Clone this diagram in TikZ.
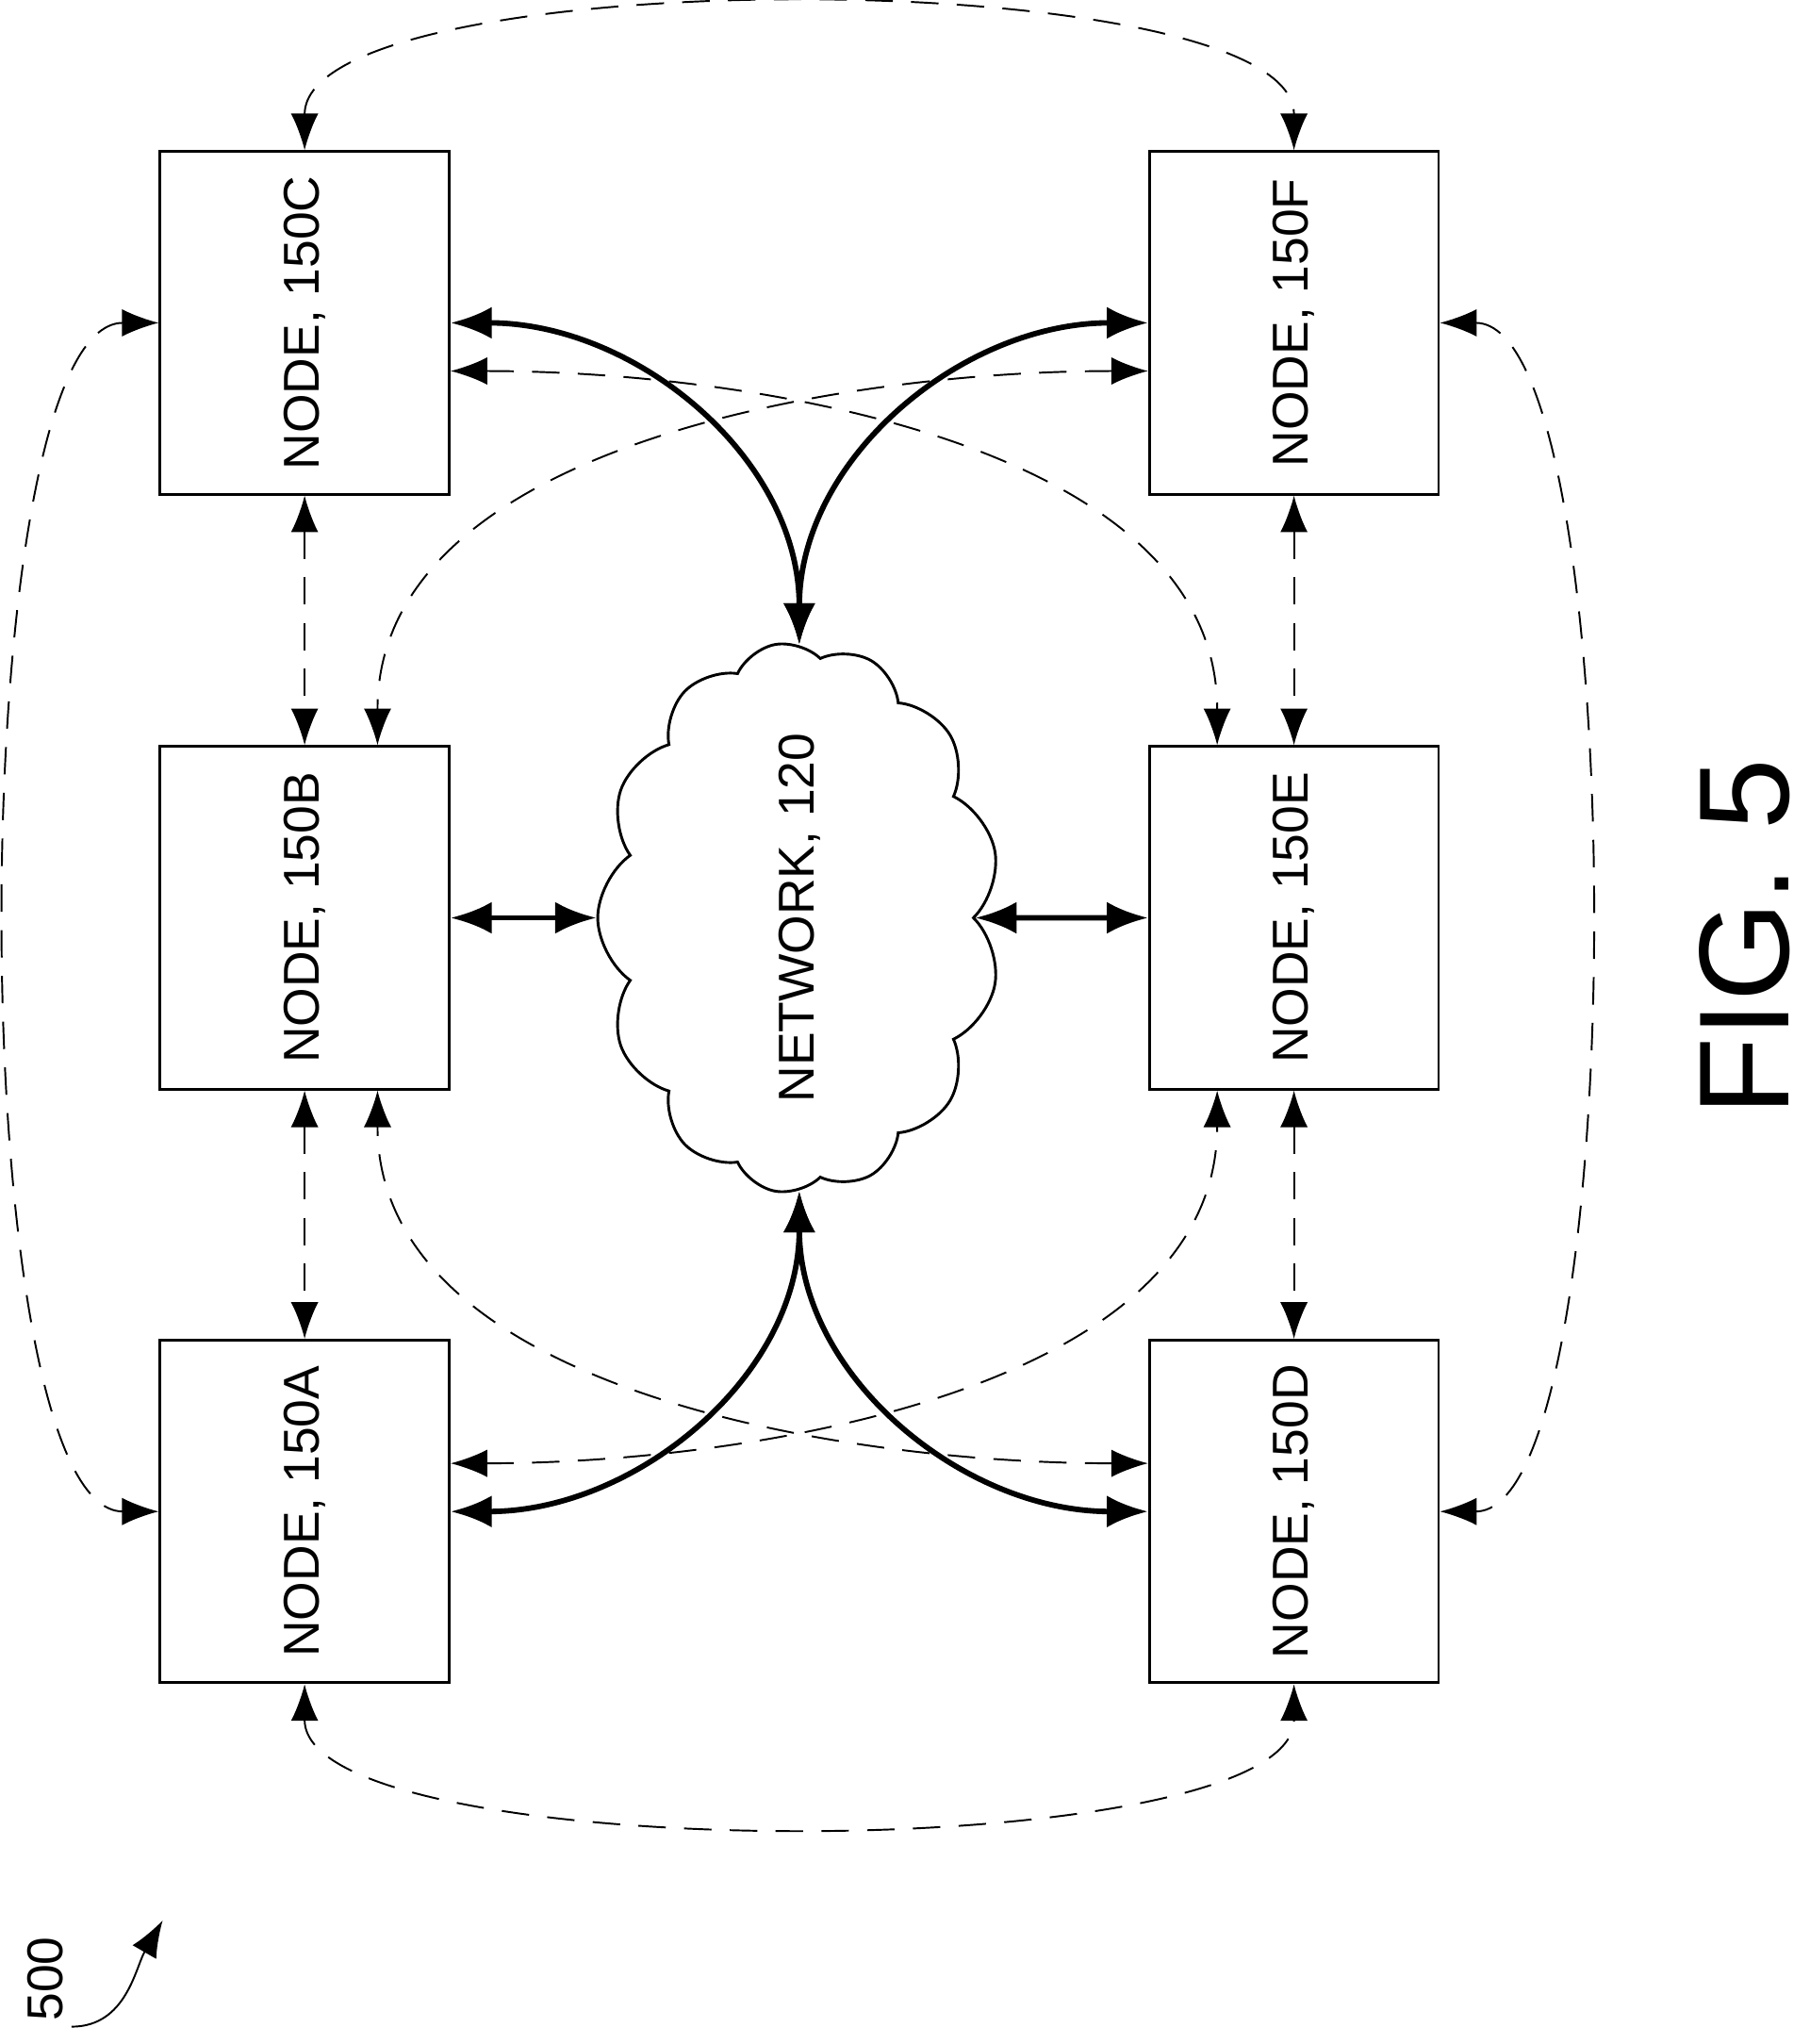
\documentclass[tikz,border=0pt]{standalone}
\usepackage{fontspec}
\setmainfont{Liberation Sans}
\usetikzlibrary{shapes.symbols,calc,arrows.meta}
\begin{document}
\begin{tikzpicture}[x=0.01cm,y=0.01cm]

%
% Styles
%
\tikzstyle{box}   = [draw,semithick,minimum width=2.22cm,minimum height=2.63cm,font=\fontsize{11}{13}\selectfont]
\tikzstyle{link}  = [<->,>={Latex[length=8pt,width=6pt]},dash pattern=on 6pt off 4pt,thin]
\tikzstyle{net}   = [<->,>={Latex[length=9pt,width=7pt]},very thick]

\useasboundingbox (0,0) rectangle (1390,1570);

\node[box] (c) at (234,1322) {\rotatebox{90}{NODE, 150C}};
\node[box] (b) at (234, 865) {\rotatebox{90}{NODE, 150B}};
\node[box] (a) at (234, 409) {\rotatebox{90}{NODE, 150A}};
\node[box] (f) at (994,1322) {\rotatebox{90}{NODE, 150F}};
\node[box] (e) at (994, 865) {\rotatebox{90}{NODE, 150E}};
\node[box] (d) at (994, 409) {\rotatebox{90}{NODE, 150D}};
\node[cloud,draw,semithick,cloud puffs=13,cloud puff arc=110,aspect=1.5,rotate=90,
      minimum width=2.4cm,minimum height=1.5cm,inner sep=0pt,font=\fontsize{11}{13}\selectfont] (n) at (614,865) {NETWORK, 120};

\node[rotate=90,font=\fontsize{28}{34}\selectfont] (fig) at (1340,850) {FIG. 5};
\node[rotate=90,font=\fontsize{11}{13}\selectfont] (lbl) at (35,50) {500};
\coordinate (lblend) at (125,95);
\draw[->,>={Latex[length=8pt,width=6pt]},thin] (lbl.west) ++(20,8) to[out=0,in=-120] (lblend);

% neighbours
\draw[link] (c) -- (b);
\draw[link] (b) -- (a);
\draw[link] (f) -- (e);
\draw[link] (e) -- (d);

% outer ring
\draw[link] (c.north) .. controls (234,1600) and (994,1600) .. (f.north);
\draw[link] (a.south) .. controls (234,135) and (994,135) .. (d.south);
\draw[link] (c.west) .. controls (-30,1322) and (-30,409) .. (a.west);
\draw[link] (f.east) .. controls (1255,1322) and (1255,409) .. (d.east);

% crossings
\draw[link] ($(c.east)+(0,-37)$) to[out=0,in=90,looseness=0.9] ($(e.north)+(-59,0)$);
\draw[link] ($(f.west)+(0,-37)$) to[out=180,in=90,looseness=0.9] ($(b.north)+(56,0)$);
\draw[link] ($(a.east)+(0,37)$) to[out=0,in=-90,looseness=0.9] ($(e.south)+(-59,0)$);
\draw[link] ($(d.west)+(0,37)$) to[out=180,in=-90,looseness=0.9] ($(b.south)+(56,0)$);

% network
\draw[net] (c.east) to[out=0,in=90] (n.east);
\draw[net] (f.west) to[out=180,in=90] (n.east);
\draw[net] (n.west) to[out=-90,in=0] (a.east);
\draw[net] (n.west) to[out=-90,in=180] (d.west);
\draw[net] (b) -- (n);
\draw[net] (n) -- (e);

\end{tikzpicture}
\end{document}
